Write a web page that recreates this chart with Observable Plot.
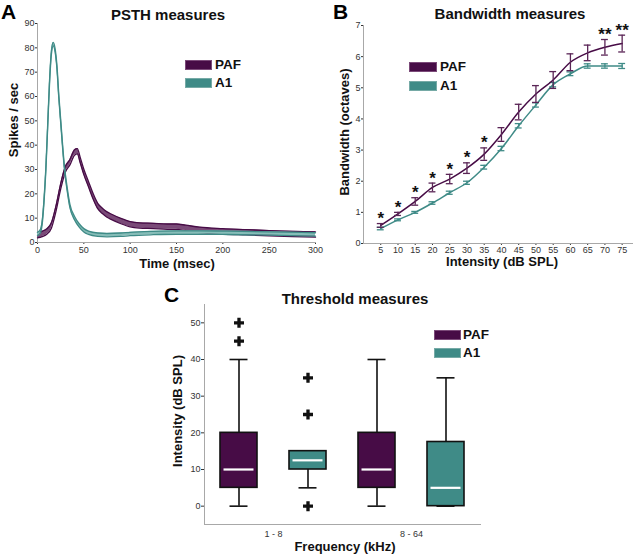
<!DOCTYPE html>
<html><head><meta charset="utf-8">
<script src="https://cdn.jsdelivr.net/npm/d3@7"></script>
<script src="https://cdn.jsdelivr.net/npm/@observablehq/plot@0.6"></script>
<style>
body{margin:0;background:#fff;font-family:Arial,"Liberation Sans",sans-serif;}
#fig{position:relative;width:640px;height:556px;overflow:hidden;background:#fff;}
.abs{position:absolute;white-space:nowrap;line-height:1;color:#111;}
.letter{font-weight:bold;font-size:21px;color:#000;}
.title{font-weight:bold;font-size:15px;transform:translateX(-50%);}
.axl{font-weight:bold;font-size:13px;}
.ctr{transform:translateX(-50%);}
.rot{transform:translate(-50%,-50%) rotate(-90deg);}
.leg{font-weight:bold;font-size:13.5px;}
.sw{position:absolute;box-sizing:border-box;}
.panel{position:absolute;}
</style></head>
<body>
<div id="fig"></div>
<script>
// ---------- Panel A: PSTH ----------
const pafTime = [0,5,10,15,20,25,30,35,40,43,46,50,55,60,65,70,75,80,90,100,110,125,140,150,160,175,200,225,250,275,300];
const pafRate = [3,3.5,4.5,7,14,23,30,33,37,37.5,34,29,24,19,15,13,11.5,10.5,8.8,7.5,7,6.8,6.5,6.5,6,5.2,4.6,4.2,3.8,3.5,3.3];
const a1Time  = [0,3,5,7,9,11,13,15,17,19,21,23,25,27,29,32,35,40,45,50,55,65,75,90,100,125,150,175,200,250,300];
const a1Rate  = [3.5,4.5,8,17,30,48,66,78,81.5,79,72,60,50,40,31,22,15,10,7,5,4,3.2,3,3.2,3.5,3.9,4.1,4.1,4,3.7,3.3];
const pafSem = 1.1, a1Sem = 0.7;
const timeTicks = [0,50,100,150,200,250,300];
const rateTicks = [0,10,20,30,40,50,60,70,80,90];

// ---------- Panel B: Bandwidth ----------
const intensities = [5,10,15,20,25,30,35,40,45,50,55,60,65,70,75];
const pafBw    = [0.58,0.95,1.35,1.8,2.07,2.42,2.87,3.5,4.22,4.8,5.25,5.82,6.12,6.3,6.42];
const pafBwErr = [0.06,0.05,0.12,0.14,0.15,0.17,0.2,0.22,0.25,0.27,0.27,0.27,0.25,0.25,0.27];
const a1Bw     = [0.48,0.76,1.0,1.3,1.63,1.95,2.45,3.05,3.78,4.45,5.1,5.45,5.7,5.7,5.7];
const a1BwErr  = [0.04,0.03,0.03,0.04,0.05,0.05,0.06,0.07,0.07,0.07,0.07,0.06,0.07,0.07,0.08];
const sigMarks = ["*","*","*","*","*","*","*","","","","","","","**","**"];
const bwTicks = [0,1,2,3,4,5,6,7];

// ---------- Panel C: Thresholds ----------
const boxGroup = ["1 - 8","1 - 8","8 - 64","8 - 64"];
const boxArea  = ["PAF","A1","PAF","A1"];
const boxLo  = [0,5,0,0];
const boxQ1  = [5,10,5,0];
const boxMed = [10,12.5,10,5];
const boxQ3  = [20,15,20,17.5];
const boxHi  = [40,15,40,35];
const outGroup = ["1 - 8","1 - 8","1 - 8","1 - 8","1 - 8"];
const outArea  = ["PAF","PAF","A1","A1","A1"];
const outVal   = [45,50,0,25,35];
const thrTicks = [0,10,20,30,40,50];

const PAF = "#470c46", A1 = "#3f8b87";
const font = "Arial, 'Liberation Sans', sans-serif";
const axisGrey = "#a8a8a8";
const fmt = d => String(d);

const fig = document.getElementById("fig");
function place(node, left, top){const d=document.createElement("div");d.className="panel";d.style.left=left+"px";d.style.top=top+"px";d.appendChild(node);fig.appendChild(d);}
function txt(cls, text, left, top){const d=document.createElement("div");d.className="abs "+cls;d.textContent=text;d.style.left=left+"px";d.style.top=top+"px";fig.appendChild(d);return d;}
function swatch(color, border, left, top, w, h){const d=document.createElement("div");d.className="sw";Object.assign(d.style,{left:left+"px",top:top+"px",width:w+"px",height:h+"px",background:color,border:"1px solid "+border});fig.appendChild(d);}

// Panel A
const pafPsth = pafTime.map((t,i)=>({t, y:pafRate[i], lo:pafRate[i]-pafSem, hi:pafRate[i]+pafSem}));
const a1Psth  = a1Time.map((t,i)=>({t, y:a1Rate[i], lo:a1Rate[i]-a1Sem, hi:a1Rate[i]+a1Sem}));
const plotA = Plot.plot({
  width:320, height:280, marginLeft:37, marginRight:5, marginTop:23, marginBottom:38,
  style:{fontFamily:font, fontSize:"9px", color:"#333", background:"transparent", overflow:"visible"},
  x:{domain:[0,300], ticks:timeTicks, tickFormat:fmt, tickSize:2, tickPadding:2, label:null},
  y:{domain:[0,90], ticks:rateTicks, tickFormat:fmt, tickSize:2, tickPadding:1, label:null},
  marks:[
    Plot.frame({anchor:"left", stroke:axisGrey}),
    Plot.frame({anchor:"bottom", stroke:axisGrey}),
    Plot.areaY(pafPsth,{x:"t", y1:"lo", y2:"hi", fill:"#7a4a78", curve:"monotone-x"}),
    Plot.line(pafPsth,{x:"t", y:"lo", stroke:PAF, strokeWidth:1.3, curve:"monotone-x"}),
    Plot.line(pafPsth,{x:"t", y:"hi", stroke:PAF, strokeWidth:1.3, curve:"monotone-x"}),
    Plot.areaY(a1Psth,{x:"t", y1:"lo", y2:"hi", fill:"#86bdb8", curve:"monotone-x"}),
    Plot.line(a1Psth,{x:"t", y:"lo", stroke:A1, strokeWidth:1.3, curve:"monotone-x"}),
    Plot.line(a1Psth,{x:"t", y:"hi", stroke:A1, strokeWidth:1.3, curve:"monotone-x"})
  ]
});
place(plotA, 0, 0);

// Panel B
const bw = intensities.map((x,i)=>({x, paf:pafBw[i], pe:pafBwErr[i], a1:a1Bw[i], ae:a1BwErr[i], sig:sigMarks[i]}));
const plotB = Plot.plot({
  width:320, height:280, marginLeft:43, marginRight:8, marginTop:25, marginBottom:37,
  style:{fontFamily:font, fontSize:"9px", color:"#333", background:"transparent", overflow:"visible"},
  x:{domain:[0,78], ticks:intensities, tickFormat:fmt, tickSize:2, tickPadding:1, label:null},
  y:{domain:[0,7], ticks:bwTicks, tickFormat:fmt, tickSize:2, tickPadding:1, label:null},
  marks:[
    Plot.frame({anchor:"left", stroke:axisGrey}),
    Plot.frame({anchor:"bottom", stroke:axisGrey}),
    Plot.line(bw,{x:"x", y:"a1", stroke:A1, strokeWidth:1.5, curve:"monotone-x"}),
    Plot.ruleX(bw,{x:"x", y1:d=>d.a1-d.ae, y2:d=>d.a1+d.ae, stroke:A1, strokeWidth:1.3}),
    Plot.ruleY(bw,{y:d=>d.a1-d.ae, x1:d=>d.x-1, x2:d=>d.x+1, stroke:A1, strokeWidth:1.3}),
    Plot.ruleY(bw,{y:d=>d.a1+d.ae, x1:d=>d.x-1, x2:d=>d.x+1, stroke:A1, strokeWidth:1.3}),
    Plot.line(bw,{x:"x", y:"paf", stroke:PAF, strokeWidth:1.5, curve:"monotone-x"}),
    Plot.ruleX(bw,{x:"x", y1:d=>d.paf-d.pe, y2:d=>d.paf+d.pe, stroke:"#5a2556", strokeWidth:1.3}),
    Plot.ruleY(bw,{y:d=>d.paf-d.pe, x1:d=>d.x-1, x2:d=>d.x+1, stroke:"#5a2556", strokeWidth:1.3}),
    Plot.ruleY(bw,{y:d=>d.paf+d.pe, x1:d=>d.x-1, x2:d=>d.x+1, stroke:"#5a2556", strokeWidth:1.3}),
    Plot.text(bw,{x:"x", y:d=>d.paf+d.pe, text:"sig", dy:-5, fontSize:17, fontWeight:"bold", fill:"#111"})
  ]
});
place(plotB, 320, 0);

// Panel C
const boxes = boxGroup.map((g,i)=>({g, area:boxArea[i], lo:boxLo[i], q1:boxQ1[i], med:boxMed[i], q3:boxQ3[i], hi:boxHi[i]}));
const outs = outGroup.map((g,i)=>({g, area:outArea[i], v:outVal[i]}));
const plotC = Plot.plot({
  width:340, height:276, marginLeft:53, marginRight:10, marginTop:24, marginBottom:32,
  style:{fontFamily:font, fontSize:"9px", color:"#333", background:"transparent", overflow:"visible"},
  fx:{domain:["1 - 8","8 - 64"], padding:0, axis:"bottom", tickSize:0, tickPadding:6, label:null},
  x:{domain:["PAF","A1"], paddingInner:0.46, paddingOuter:0.22, axis:null},
  y:{domain:[-5,55], ticks:thrTicks, tickFormat:fmt, tickSize:3, tickPadding:1, label:null},
  color:{domain:["PAF","A1"], range:[PAF, A1]},
  marks:[
    Plot.frame({anchor:"left", stroke:axisGrey, facet:"super"}),
    Plot.frame({anchor:"bottom", stroke:axisGrey, facet:"super"}),
    Plot.ruleX(boxes,{fx:"g", x:"area", y1:"q3", y2:"hi", stroke:"#111", strokeWidth:1.6}),
    Plot.ruleX(boxes,{fx:"g", x:"area", y1:"lo", y2:"q1", stroke:"#111", strokeWidth:1.6}),
    Plot.tickY(boxes,{fx:"g", x:"area", y:"hi", stroke:"#111", strokeWidth:1.6, insetLeft:9.5, insetRight:9.5}),
    Plot.tickY(boxes,{fx:"g", x:"area", y:"lo", stroke:"#111", strokeWidth:1.6, insetLeft:9.5, insetRight:9.5}),
    Plot.barY(boxes,{fx:"g", x:"area", y1:"q1", y2:"q3", fill:"area", stroke:"#111", strokeWidth:1.6}),
    Plot.tickY(boxes,{fx:"g", x:"area", y:"med", stroke:"#fff", strokeWidth:2.2, insetLeft:3.5, insetRight:3.5}),
    Plot.dot(outs,{fx:"g", x:"area", y:"v", symbol:"cross", r:4.2, fill:"#111", stroke:"none"})
  ]
});
place(plotC, 150, 280);

// Text
txt("letter","A",1,1);
txt("letter","B",333,1);
txt("letter","C",164,284);
txt("title","PSTH measures",168,7);
txt("title","Bandwidth measures",510,6);
txt("title","Threshold measures",355,291);
txt("axl ctr","Time (msec)",177,257);
txt("axl ctr","Intensity (dB SPL)",502,255);
txt("axl ctr","Frequency (kHz)",345,540);
txt("axl rot","Spikes / sec",13,120);
txt("axl rot","Bandwidth (octaves)",344,132);
txt("axl rot","Intensity (dB SPL)",177,411);

// Legends
swatch(PAF,"#7b4a79",185,60,27,10); swatch(A1,"#76aaa6",185,78,27,10);
txt("leg","PAF",215,58); txt("leg","A1",215,76);
swatch(PAF,"#7b4a79",409,62,28,10); swatch(A1,"#76aaa6",409,81,28,10);
txt("leg","PAF",440,60); txt("leg","A1",440,79);
swatch(PAF,"#7b4a79",434,330,27,10); swatch(A1,"#76aaa6",434,348,27,10);
txt("leg","PAF",463,328); txt("leg","A1",463,346);
</script>
</body></html>
